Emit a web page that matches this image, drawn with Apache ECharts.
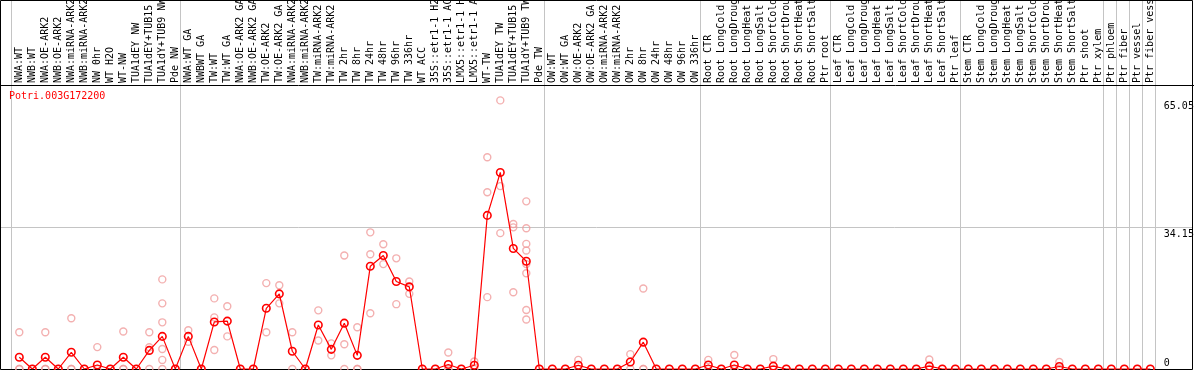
<!DOCTYPE html>
<html><head><meta charset="utf-8">
<script src="https://cdn.jsdelivr.net/npm/echarts@6/dist/echarts.min.js"></script>
<style>html,body{margin:0;padding:0;background:#fff}#c{width:1194px;height:370px}</style>
</head><body><div id="c"></div>
<script>
const geneId = 'Potri.003G172200';

const categories = [
  'NWA:WT','NWB:WT','NWA:OE-ARK2','NWB:OE-ARK2','NWA:miRNA-ARK2','NWB:miRNA-ARK2','NW 0hr','WT H2O','WT-NW','TUA1dEY NW','TUA1dEY+TUB15','TUA1dY+TUB9 NW','Pde NW',
  'NWA:WT GA','NWBWT GA','TW:WT','TW:WT GA','NWA:OE-ARK2 GA','NWB:OE-ARK2 GA','TW:OE-ARK2','TW:OE-ARK2 GA','NWA:miRNA-ARK2','NWB:miRNA-ARK2','TW:miRNA-ARK2','TW:miRNA-ARK2',
  'TW 2hr','TW 8hr','TW 24hr','TW 48hr','TW 96hr','TW 336hr','WT ACC','35S::etr1-1 H2O','35S::etr1-1 ACC','LMX5::etr1-1 H2O','LMX5::etr1-1 ACC','WT-TW','TUA1dEY TW','TUA1dEY+TUB15','TUA1dY+TUB9 TW','Pde TW',
  'OW:WT','OW:WT GA','OW:OE-ARK2','OW:OE-ARK2 GA','OW:miRNA-ARK2','OW:miRNA-ARK2','OW 2hr','OW 8hr','OW 24hr','OW 48hr','OW 96hr','OW 336hr',
  'Root CTR','Root LongCold','Root LongDrought','Root LongHeat','Root LongSalt','Root ShortCold','Root ShortDrought','Root ShortHeat','Root ShortSalt','Ptr root',
  'Leaf CTR','Leaf LongCold','Leaf LongDrought','Leaf LongHeat','Leaf LongSalt','Leaf ShortCold','Leaf ShortDrought','Leaf ShortHeat','Leaf ShortSalt','Ptr leaf',
  'Stem CTR','Stem LongCold','Stem LongDrought','Stem LongHeat','Stem LongSalt','Stem ShortCold','Stem ShortDrought','Stem ShortHeat','Stem ShortSalt','Ptr shoot','Ptr xylem',
  'Ptr phloem','Ptr fiber','Ptr vessel','Ptr fiber vessel'
];

const means = [
  2.83,0,2.83,0,4.04,0,0.97,0,2.83,0,4.5,7.9,0,
  7.9,0,11.4,11.6,0,0,14.7,18.2,4.3,0,10.66,4.76,
  11.1,3.3,24.9,27.5,21.2,19.9,0,0,1.1,0,0.9,37.2,47.6,29.2,26.1,0,
  0,0,0.9,0,0,0,1.7,6.5,0,0,0,0,
  0.97,0,0.97,0,0,0.7,0,0,0,0,
  0,0,0,0,0,0,0,0.7,0,0,
  0,0,0,0,0,0,0,0.6,0,0,0,
  0,0,0,0
];

const replicates = [
  [8.9,0,0],[0],[8.9,0,0],[0],[12.3,0,0],[0],[5.3,0],[0],[9.1,0,0],[0],[8.9,5.25,0],[21.7,15.9,11.3,4.84,2.2,0],[0],
  [9.4,6.6],[0],[17.1,12.5,4.6],[15.2,7.9],[0],[0],[20.8,8.9],[20.3,15.9],[8.9,0],[0],[14.2,6.9],[6.2,3.3],
  [27.5,6.0,0],[10.1,0,0],[33.1,27.8,13.5],[30.2,25.4],[26.8,15.7],[21.2,18.2],[0],[0],[4.0,0,0],[0],[1.8,0],
  [51.3,42.8,17.4],[65.05,44.3,32.9],[35.1,34.3,18.6],[40.6,34.1,30.3,28.7,25.4,23.2,14.3,12.0],[0],
  [0],[0],[2.2,0],[0],[0],[0],[3.6,0],[19.5,0,0],[0],[0],[0],[0],
  [2.2,0],[0],[3.4,0,0],[0],[0],[2.4,0,0],[0],[0],[0],[0],
  [0],[0],[0],[0],[0],[0],[0],[2.3,0,0],[0],[0],
  [0],[0],[0],[0],[0],[0],[0],[1.7,0,0],[0],[0],[0],
  [0],[0],[0],[0]
];

const yTickValues = [0, 34.15, 65.05];
const yMax = 68.78;
const separatorBefore = [0, 13, 41, 53, 63, 73, 84, 85, 86, 87, 88];

const FONT = 'DejaVu Sans Mono';
const chart = echarts.init(document.getElementById('c'), null, {renderer: 'canvas'});

const repPoints = [];
replicates.forEach((list, i) => list.forEach(v => repPoints.push([i, v])));

chart.setOption({
  animation: false,
  backgroundColor: '#ffffff',
  title: {
    text: geneId, left: 9, top: 91, padding: 0,
    textStyle: {color: '#ff0000', fontSize: 10, fontWeight: 'normal', fontFamily: FONT}
  },
  grid: {left: 12.8, right: 37.2, top: 85, bottom: 1, containLabel: false, outerBoundsMode: 'none'},
  xAxis: {
    type: 'category', position: 'top', data: categories, boundaryGap: true,
    axisLine: {show: false}, axisTick: {show: false}, splitLine: {show: false},
    axisLabel: {interval: 0, rotate: 90, margin: 2, fontSize: 10, fontFamily: FONT, color: '#000'}
  },
  yAxis: {
    type: 'value', position: 'right', min: 0, max: yMax,
    axisLine: {show: false}, axisTick: {show: false}, splitLine: {show: false},
    axisLabel: {
      customValues: yTickValues, margin: 7, fontSize: 10, fontFamily: FONT, color: '#000',
      align: 'left', verticalAlign: 'middle', showMinLabel: true, showMaxLabel: true,
      formatter: v => (v === 0 ? '{lo|0}' : '{hi|' + v + '}'),
      rich: {
        hi: {padding: [12, 0, 0, 0], fontSize: 10, fontFamily: FONT, color: '#000'},
        lo: {padding: [0, 0, 12, 0], fontSize: 10, fontFamily: FONT, color: '#000'}
      }
    }
  },
  series: [
    {
      type: 'scatter', name: 'replicates', data: repPoints, z: 2,
      symbol: 'circle', symbolSize: 7,
      itemStyle: {color: 'rgba(0,0,0,0)', borderColor: '#f09c9c', borderWidth: 1.4},
      silent: true
    },
    {
      type: 'line', name: 'mean', data: means, z: 3,
      symbol: 'circle', symbolSize: 7.5, showAllSymbol: true,
      lineStyle: {color: '#ff0000', width: 1.2},
      itemStyle: {color: 'rgba(0,0,0,0)', borderColor: '#ff0000', borderWidth: 1.6},
      silent: true
    }
  ]
});

// decorative separators and frame derived from the axes' scales
const px = i => chart.convertToPixel({xAxisIndex: 0}, i);
const yOf = v => chart.convertToPixel({yAxisIndex: 0}, v);
const band = px(1) - px(0);
const sepOffset = 8 / 13;
const W = chart.getWidth(), H = chart.getHeight();
const crisp = v => Math.round(v - 0.5) + 0.5;
const els = [];
separatorBefore.forEach(k => {
  const x = crisp(px(0) + (k - sepOffset) * band);
  els.push({type: 'line', silent: true, z: 0, shape: {x1: x, y1: 0, x2: x, y2: H}, style: {stroke: '#c4c4c4', lineWidth: 1}});
});
const yg = crisp(yOf(34.15));
els.push({type: 'line', silent: true, z: 0, shape: {x1: 0, y1: yg, x2: W - 1, y2: yg}, style: {stroke: '#c4c4c4', lineWidth: 1}});
const yt = crisp(yOf(yMax));
els.push({type: 'line', silent: true, z: 1, shape: {x1: 0, y1: yt, x2: W, y2: yt}, style: {stroke: '#000', lineWidth: 1}});
const yb = crisp(yOf(0));
els.push({type: 'rect', silent: true, z: 1, shape: {x: 0.5, y: 0.5, width: W - 1.5 - 0.5, height: yb - 0.5}, style: {fill: null, stroke: '#000', lineWidth: 1}});
chart.setOption({graphic: {elements: els}});
</script>
</body></html>
